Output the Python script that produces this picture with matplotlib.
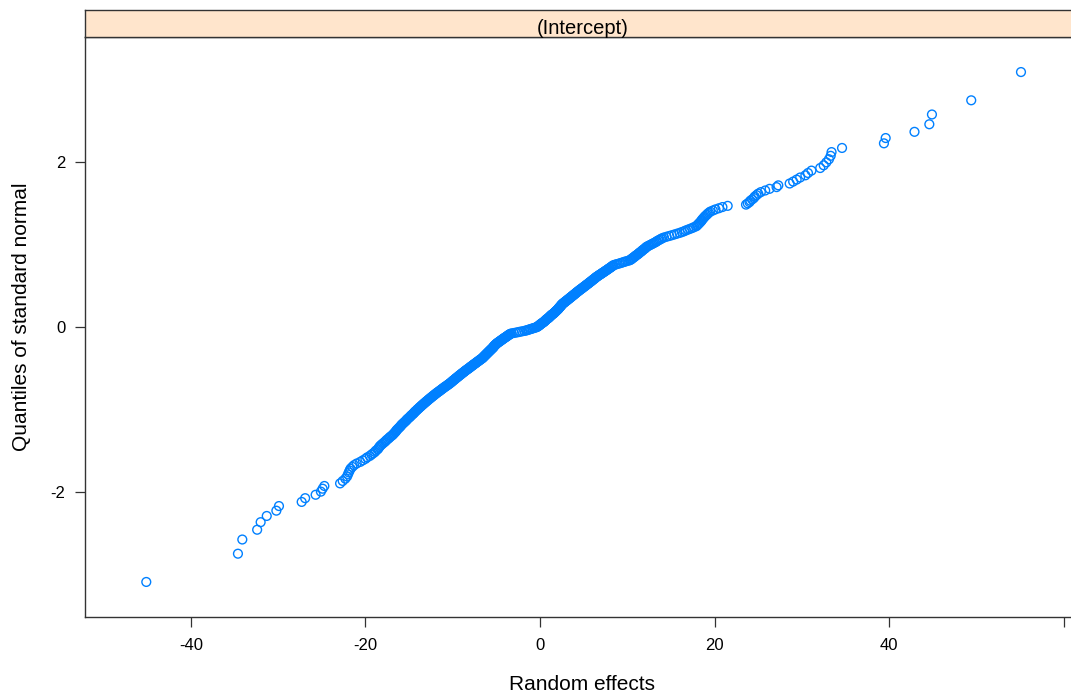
import matplotlib
matplotlib.use('Agg')
import matplotlib.pyplot as plt
from statistics import NormalDist

plt.rcParams['font.family'] = ['Liberation Sans', 'DejaVu Sans']

# random effect estimates (sorted)
effects = [
    -45.1, -34.6, -34.1, -32.4, -32.0, -31.3, -30.2, -29.9, -27.3, -26.9,
    -25.7, -25.1, -24.9, -24.7, -22.9, -22.6, -22.3, -22.1, -22.0, -21.9,
    -21.8, -21.7, -21.5, -21.3, -21.0, -20.6, -20.3, -20.0, -19.8, -19.5,
    -19.3, -19.1, -18.9, -18.8, -18.6, -18.5, -18.4, -18.3, -18.15, -18.0,
    -17.85, -17.7, -17.6, -17.45, -17.3, -17.2, -17.05, -16.9, -16.8, -16.7,
    -16.6, -16.5, -16.45, -16.35, -16.25, -16.15, -16.05, -15.95, -15.9, -15.8,
    -15.7, -15.6, -15.5, -15.4, -15.3, -15.25, -15.15, -15.05, -14.95, -14.85,
    -14.8, -14.7, -14.6, -14.5, -14.45, -14.35, -14.3, -14.2, -14.1, -14.05,
    -13.95, -13.85, -13.8, -13.7, -13.6, -13.55, -13.45, -13.35, -13.3, -13.2,
    -13.1, -13.05, -12.95, -12.85, -12.8, -12.7, -12.6, -12.55, -12.45, -12.35,
    -12.3, -12.2, -12.1, -12.05, -11.95, -11.85, -11.8, -11.7, -11.6, -11.5,
    -11.45, -11.35, -11.25, -11.2, -11.1, -11.0, -10.95, -10.85, -10.75, -10.65,
    -10.6, -10.5, -10.4, -10.35, -10.25, -10.2, -10.1, -10.05, -10.0, -9.9,
    -9.85, -9.75, -9.7, -9.65, -9.55, -9.5, -9.4, -9.35, -9.3, -9.2,
    -9.15, -9.05, -9.0, -8.95, -8.85, -8.8, -8.7, -8.65, -8.6, -8.5,
    -8.45, -8.35, -8.3, -8.2, -8.15, -8.05, -8.0, -7.95, -7.85, -7.8,
    -7.7, -7.65, -7.6, -7.5, -7.45, -7.35, -7.3, -7.25, -7.15, -7.1,
    -7.0, -6.95, -6.9, -6.8, -6.75, -6.65, -6.6, -6.55, -6.5, -6.45,
    -6.4, -6.35, -6.3, -6.25, -6.2, -6.15, -6.1, -6.05, -6.0, -5.95,
    -5.9, -5.85, -5.8, -5.75, -5.7, -5.65, -5.6, -5.55, -5.5, -5.45,
    -5.4, -5.35, -5.3, -5.3, -5.25, -5.2, -5.15, -5.1, -5.05, -5.0,
    -4.95, -4.9, -4.8, -4.75, -4.7, -4.6, -4.55, -4.5, -4.4, -4.35,
    -4.3, -4.2, -4.15, -4.1, -4.0, -3.95, -3.85, -3.8, -3.75, -3.65,
    -3.6, -3.55, -3.45, -3.4, -3.25, -3.0, -2.75, -2.5, -2.3, -2.05,
    -1.8, -1.6, -1.45, -1.3, -1.15, -1.0, -0.85, -0.7, -0.55, -0.4,
    -0.3, -0.25, -0.2, -0.1, -0.05, 0.0, 0.05, 0.1, 0.2, 0.25,
    0.3, 0.4, 0.45, 0.5, 0.55, 0.6, 0.65, 0.7, 0.75, 0.8,
    0.9, 0.95, 1.0, 1.05, 1.1, 1.15, 1.2, 1.25, 1.3, 1.35,
    1.4, 1.5, 1.55, 1.6, 1.65, 1.7, 1.75, 1.8, 1.85, 1.9,
    1.95, 2.0, 2.05, 2.1, 2.15, 2.15, 2.2, 2.25, 2.3, 2.35,
    2.4, 2.4, 2.45, 2.5, 2.55, 2.6, 2.65, 2.7, 2.8, 2.85,
    2.9, 2.95, 3.05, 3.1, 3.15, 3.2, 3.3, 3.35, 3.4, 3.45,
    3.55, 3.6, 3.65, 3.7, 3.8, 3.85, 3.9, 3.95, 4.05, 4.1,
    4.15, 4.2, 4.3, 4.35, 4.4, 4.5, 4.55, 4.6, 4.7, 4.75,
    4.85, 4.9, 4.95, 5.05, 5.1, 5.2, 5.25, 5.3, 5.4, 5.45,
    5.55, 5.6, 5.65, 5.75, 5.8, 5.9, 5.95, 6.0, 6.1, 6.15,
    6.25, 6.3, 6.35, 6.45, 6.5, 6.6, 6.7, 6.75, 6.85, 6.95,
    7.05, 7.1, 7.2, 7.3, 7.4, 7.45, 7.55, 7.65, 7.75, 7.8,
    7.9, 8.0, 8.1, 8.15, 8.25, 8.35, 8.4, 8.6, 8.8, 9.05,
    9.25, 9.45, 9.65, 9.85, 10.1, 10.3, 10.4, 10.5, 10.55, 10.65,
    10.75, 10.85, 10.9, 11.0, 11.1, 11.2, 11.3, 11.35, 11.45, 11.55,
    11.65, 11.7, 11.8, 11.9, 12.0, 12.1, 12.15, 12.25, 12.4, 12.55,
    12.7, 12.85, 13.0, 13.15, 13.3, 13.4, 13.55, 13.7, 13.85, 14.0,
    14.2, 14.5, 14.8, 15.1, 15.4, 15.7, 16.0, 16.25, 16.5, 16.7,
    16.95, 17.2, 17.45, 17.65, 17.9, 18.0, 18.1, 18.2, 18.3, 18.4,
    18.5, 18.55, 18.65, 18.75, 18.85, 18.95, 19.1, 19.2, 19.35, 19.5,
    19.8, 20.1, 20.5, 20.9, 21.5, 23.6, 23.8, 24.0, 24.1, 24.3,
    24.5, 24.6, 24.8, 25.0, 25.3, 25.8, 26.3, 27.1, 27.3, 28.6,
    29.0, 29.4, 29.8, 30.4, 30.7, 31.1, 32.1, 32.5, 32.8, 33.1,
    33.3, 33.4, 34.6, 39.4, 39.6, 42.9, 44.6, 44.9, 49.4, 55.1,
]
strip_label = '(Intercept)'
x_ticks = [-40, -20, 0, 20, 40, 60]
x_tick_labels = ['-40', '-20', '0', '20', '40', '']
y_ticks = [-2, 0, 2]
y_tick_labels = ['-2', '0', '2']

# theoretical quantiles like qqmath (ppoints)
effects = sorted(effects)
n = len(effects)
quantiles = [NormalDist().inv_cdf((i + 0.5) / n) for i in range(n)]

W, H = 1071, 695
fig = plt.figure(figsize=(W / 100, H / 100), dpi=100)

# panel
ax = fig.add_axes([85 / W, (H - 617) / H, (1080 - 85) / W, (617 - 37) / H])
ax.scatter(effects, quantiles, s=40, facecolors='none', edgecolors='#0080ff', linewidths=1.0)
ax.set_xlim(-52.12, 61.86)
ax.set_ylim(-3.515, 3.515)
ax.set_xticks(x_ticks)
ax.set_xticklabels(x_tick_labels)
ax.set_yticks(y_ticks)
ax.set_yticklabels(y_tick_labels)
ax.tick_params(direction='out', length=7, width=0.9, labelsize=12, color='#333333')
ax.tick_params(axis='x', pad=8)
ax.tick_params(axis='y', pad=7)
ax.tick_params(top=False, right=False)
for sp in ax.spines.values():
    sp.set_color('#333333')
    sp.set_linewidth(1.0)

# strip on top
sax = fig.add_axes([85 / W, (H - 37) / H, (1080 - 85) / W, 27 / H])
sax.set_facecolor('#ffe5cc')
sax.set_xticks([])
sax.set_yticks([])
for sp in sax.spines.values():
    sp.set_color('#333333')
    sp.set_linewidth(1.0)
sax.text(0.5, 0.32, strip_label, ha='center', va='center', fontsize=14.5, transform=sax.transAxes)

fig.text(582 / W, 1 - 684 / H, 'Random effects', ha='center', va='center', fontsize=15)
fig.text(22 / W, 1 - 317 / H, 'Quantiles of standard normal', ha='center', va='center',
         rotation=90, fontsize=15)

fig.savefig('out.png', dpi=100)
